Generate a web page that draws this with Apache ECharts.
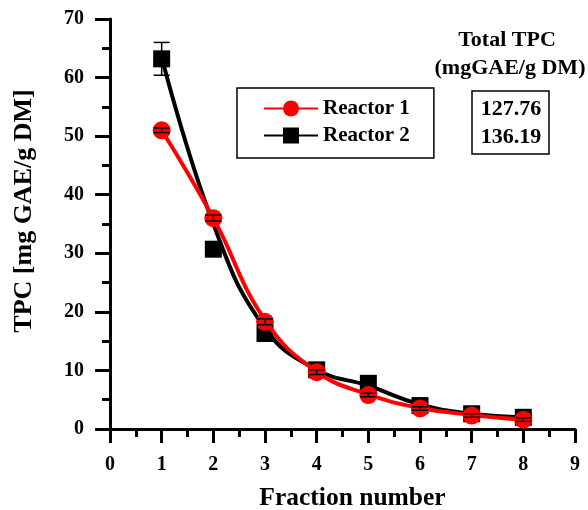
<!DOCTYPE html>
<html lang="en">
  <head>
    <meta charset="utf-8">
    <title>TPC fractions</title>
    <script src="https://cdn.jsdelivr.net/npm/echarts@6/dist/echarts.min.js"></script>
    <style>
      html, body { margin: 0; padding: 0; background: #fff; }
      #chart { width: 588px; height: 510px; }
    </style>
  </head>
  <body>
    <div id="chart"></div>
    <script>
      // data
      var fractions = [1, 2, 3, 4, 5, 6, 7, 8];
      var reactor1 = [51.0, 36.0, 18.3, 9.7, 5.8, 3.5, 2.3, 1.6];
      var reactor2 = [63.2, 30.7, 16.3, 10.1, 7.8, 4.0, 2.6, 2.0];
      var err1 = [0.4, 0.5, 0.5, 0.4, 0.3, 0.3, 0.3, 0.3];
      var err2 = [2.8, 0.5, 0.6, 0.5, 0.4, 0.4, 0.3, 0.3];
      // fitted curves, read at each fraction
      var fit1 = [51.0, 36.0, 18.6, 9.8, 5.9, 3.6, 2.4, 1.6];
      var fit2 = [63.5, 35.0, 17.2, 10.1, 7.4, 4.2, 2.6, 2.0];
      var totals = ['127.76', '136.19'];

      var FONT = '"Liberation Serif", "Times New Roman", serif';

      function pairs(ys){
        var out = [];
        for (var i = 0; i < fractions.length; i++){
          out.push([fractions[i], ys[i]]);
        }
        return out;
      }

      function curveData(ys){
        var out = [];
        for (var i = 0; i < fractions.length; i++){
          out.push({value: [fractions[i], ys[i]], symbolSize: 0});
        }
        return out;
      }

      function errData(ys, es){
        var out = [];
        for (var i = 0; i < fractions.length; i++){
          out.push([fractions[i], ys[i] - es[i], ys[i] + es[i]]);
        }
        return out;
      }

      function renderErr(color){
        return function(params, api){
          var lo = api.coord([api.value(0), api.value(1)]);
          var hi = api.coord([api.value(0), api.value(2)]);
          var w = 8;
          var st = {stroke: color, lineWidth: 1.5};
          return {
            type: 'group',
            children: [
              {type: 'line', shape: {x1: lo[0], y1: lo[1], x2: hi[0], y2: hi[1]}, style: st},
              {type: 'line', shape: {x1: lo[0] - w, y1: lo[1], x2: lo[0] + w, y2: lo[1]}, style: st},
              {type: 'line', shape: {x1: hi[0] - w, y1: hi[1], x2: hi[0] + w, y2: hi[1]}, style: st}
            ]
          };
        };
      }

      var myChart = echarts.init(document.getElementById('chart'));

      var axisText = {color: '#000', fontFamily: FONT, fontWeight: 'bold', fontSize: 20};
      var nameText = {color: '#000', fontFamily: FONT, fontWeight: 'bold', fontSize: 25};

      myChart.setOption({
        animation: false,
        backgroundColor: '#fff',
        grid: {left: 110, right: 13, top: 19, bottom: 81, outerBoundsMode: 'none', containLabel: false},
        legend: {
          data: ['Reactor 1', 'Reactor 2'],
          orient: 'vertical',
          left: 237,
          top: 88,
          padding: [10, 24, 12, 26],
          itemGap: 6,
          itemWidth: 54,
          itemHeight: 20,
          borderColor: '#000',
          borderWidth: 1.5,
          textStyle: {color: '#000', fontFamily: FONT, fontWeight: 'bold', fontSize: 21}
        },
        xAxis: {
          type: 'value',
          min: 0, max: 9, interval: 1,
          name: 'Fraction number',
          nameLocation: 'middle',
          nameGap: 56,
          nameTextStyle: Object.assign({}, nameText, {fontSize: 25.5, padding: [0, 0, 0, 20]}),
          axisLine: {lineStyle: {color: '#000', width: 3}},
          axisTick: {length: 14, lineStyle: {width: 3, color: '#000'}},
          minorTick: {show: true, splitNumber: 2, length: 8, lineStyle: {width: 3, color: '#000'}},
          axisLabel: Object.assign({margin: 26}, axisText),
          splitLine: {show: false}
        },
        yAxis: {
          type: 'value',
          min: 0, max: 70, interval: 10,
          name: 'TPC [mg GAE/g DM]',
          nameLocation: 'middle',
          nameGap: 73,
          nameTextStyle: Object.assign({}, nameText, {fontSize: 26, padding: [0, 0, 0, 26]}),
          axisLine: {show: true, lineStyle: {color: '#000', width: 3}},
          axisTick: {show: true, length: 15, lineStyle: {width: 3, color: '#000'}},
          minorTick: {show: true, splitNumber: 2, length: 8, lineStyle: {width: 3, color: '#000'}},
          axisLabel: Object.assign({margin: 26}, axisText),
          splitLine: {show: false}
        },
        series: [
          {
            name: 'Reactor 2',
            type: 'line',
            smooth: 0.45,
            symbol: 'rect',
            symbolSize: 17,
            showSymbol: true,
            data: curveData(fit2),
            itemStyle: {color: '#000'},
            lineStyle: {color: '#000', width: 4},
            z: 2
          },
          {
            type: 'custom',
            renderItem: renderErr('#000'),
            data: errData(reactor2, err2),
            z: 3
          },
          {
            type: 'scatter',
            symbol: 'rect',
            symbolSize: 17,
            data: pairs(reactor2),
            itemStyle: {color: '#000', opacity: 1},
            z: 4
          },
          {
            name: 'Reactor 1',
            type: 'line',
            smooth: 0.45,
            symbol: 'circle',
            symbolSize: 20,
            showSymbol: true,
            data: curveData(fit1),
            itemStyle: {color: '#ff0000'},
            lineStyle: {color: '#ff0000', width: 4},
            z: 5
          },
          {
            type: 'scatter',
            symbol: 'circle',
            symbolSize: 18,
            data: pairs(reactor1),
            itemStyle: {color: '#ff0000', opacity: 1},
            z: 6
          },
          {
            type: 'custom',
            renderItem: renderErr('#000'),
            data: errData(reactor1, err1),
            z: 7
          }
        ],
        graphic: [
          {
            type: 'text', x: 507, y: 40,
            style: {text: 'Total TPC', fill: '#000', font: 'bold 22px ' + FONT,
                    textAlign: 'center', textVerticalAlign: 'middle'}
          },
          {
            type: 'text', x: 510, y: 68,
            style: {text: '(mgGAE/g DM)', fill: '#000', font: 'bold 22px ' + FONT,
                    textAlign: 'center', textVerticalAlign: 'middle'}
          },
          {
            type: 'rect', x: 472, y: 91,
            shape: {width: 77, height: 63},
            style: {fill: 'none', stroke: '#000', lineWidth: 1.5}
          },
          {
            type: 'text', x: 511, y: 109,
            style: {text: totals[0], fill: '#000', font: 'bold 22px ' + FONT,
                    textAlign: 'center', textVerticalAlign: 'middle'}
          },
          {
            type: 'text', x: 511, y: 137,
            style: {text: totals[1], fill: '#000', font: 'bold 22px ' + FONT,
                    textAlign: 'center', textVerticalAlign: 'middle'}
          }
        ]
      });
    </script>
  </body>
</html>
